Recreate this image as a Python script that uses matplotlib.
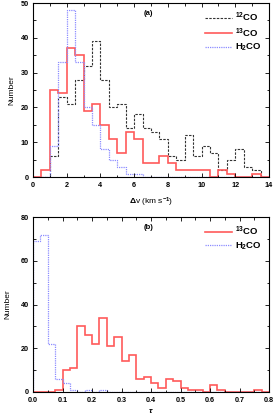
import numpy as np
import matplotlib
matplotlib.use("Agg")
import matplotlib.pyplot as plt
from matplotlib.ticker import MultipleLocator

# Panel (a): line widths, bins of 0.5 km/s from 0 to 14
dv_edges = np.arange(0, 14.01, 0.5)
co12_dv = [0, 0, 6, 23, 21, 28, 32, 39, 28, 20, 21, 14, 18, 14, 13, 11, 6, 5, 12, 6, 9, 7, 2, 5, 8, 3, 2, 0]
co13_dv = [0, 2, 25, 24, 37, 35, 19, 21, 15, 11, 7, 13, 11, 4, 4, 6, 4, 2, 2, 2, 2, 0, 2, 1, 0, 0, 1, 0]
h2co_dv = [0, 0, 9, 33, 48, 33, 20, 15, 8, 5, 3, 1, 1, 0, 0, 0, 0, 0, 0, 0, 0, 0, 0, 0, 0, 0, 0, 0]

# Panel (b): optical depth, bins of 0.025 from 0 to 0.8
tau_edges = np.linspace(0, 0.8, 33)
co13_tau = [0, 0, 0, 1, 10, 11, 30, 26, 22, 34, 21, 25, 14, 17, 6, 7, 4, 2, 6, 5, 2, 1, 1, 0, 3, 1, 0, 0, 0, 0, 1, 0]
h2co_tau = [69, 72, 22, 6, 4, 1, 0, 1, 0, 1, 0, 0, 0, 0, 0, 0, 0, 0, 0, 0, 0, 0, 0, 0, 0, 0, 0, 0, 0, 0, 0, 0]

plt.rcParams['font.family'] = ['Liberation Sans', 'DejaVu Sans']
plt.rcParams['font.weight'] = 'bold'
plt.rcParams['mathtext.fontset'] = 'custom'
plt.rcParams['mathtext.rm'] = 'Liberation Sans:bold'
plt.rcParams['mathtext.it'] = 'Liberation Sans:italic:bold'

fig = plt.figure(figsize=(2.73, 4.17), dpi=100)
W, H = 273, 417
axa = fig.add_axes([33 / W, 1 - 177 / H, 236 / W, 174 / H])
axb = fig.add_axes([33 / W, 1 - 392 / H, 236 / W, 175 / H])

c_black = '#333333'
c_red = '#ff5a5a'
c_blue = '#8c8cff'
fs = 5.2

axa.stairs(co12_dv, dv_edges, baseline=0, color=c_black, lw=0.8, ls=(0, (2.2, 1.2)), label=r'$^{12}$CO')
axa.stairs(co13_dv, dv_edges, baseline=0, color=c_red, lw=1.2, label=r'$^{13}$CO')
axa.stairs(h2co_dv, dv_edges, baseline=0, color=c_blue, lw=0.9, ls=(0, (1, 0.8)), label=r'H$_2$CO')

axb.stairs(co13_tau, tau_edges, baseline=0, color=c_red, lw=1.2, label=r'$^{13}$CO')
axb.stairs(h2co_tau, tau_edges, baseline=0, color=c_blue, lw=0.9, ls=(0, (1, 0.8)), label=r'H$_2$CO')

axa.set_xlim(0, 14)
axa.set_ylim(0, 50)
axa.xaxis.set_major_locator(MultipleLocator(2))
axa.xaxis.set_minor_locator(MultipleLocator(1))
axa.yaxis.set_major_locator(MultipleLocator(10))
axa.yaxis.set_minor_locator(MultipleLocator(5))
axa.set_xlabel(r'$\Delta$v (km s$^{-1}$)', fontsize=6, labelpad=5)
axa.set_ylabel('Number', fontsize=6, labelpad=4)
axa.text(0.49, 0.96, '(a)', transform=axa.transAxes, ha='center', va='top', fontsize=5.5)

axb.set_xlim(0, 0.8)
axb.set_ylim(0, 80)
axb.xaxis.set_major_locator(MultipleLocator(0.1))
axb.xaxis.set_minor_locator(MultipleLocator(0.05))
axb.yaxis.set_major_locator(MultipleLocator(20))
axb.yaxis.set_minor_locator(MultipleLocator(10))
axb.set_xlabel(r'$\tau$', fontsize=6, labelpad=2.5)
axb.set_ylabel('Number', fontsize=6, labelpad=7)
axb.text(0.49, 0.96, '(b)', transform=axb.transAxes, ha='center', va='top', fontsize=5.5)

for ax in (axa, axb):
    ax.tick_params(which='both', direction='in', top=True, right=True, labelsize=fs, width=0.6)
    ax.tick_params(which='major', length=3)
    ax.tick_params(axis='x', which='major', pad=3.5)
    ax.tick_params(axis='y', which='major', pad=3)
    ax.tick_params(which='minor', length=1.8)
    for s in ax.spines.values():
        s.set_linewidth(0.8)
    ax.legend(loc='upper right', fontsize=6.8, frameon=False, handlelength=2.8,
              handletextpad=0.3, labelspacing=0.25, borderaxespad=0.4)

axb.xaxis.set_major_formatter(matplotlib.ticker.FormatStrFormatter('%.1f'))

fig.savefig('out.png', dpi=100)
